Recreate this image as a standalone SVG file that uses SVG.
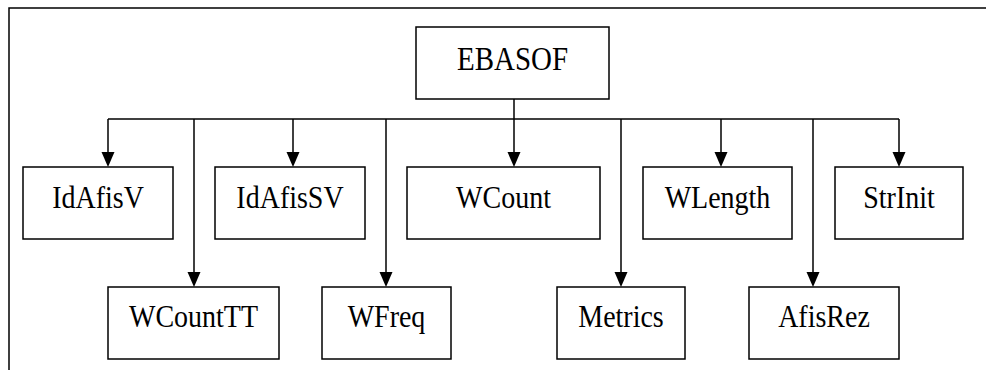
<svg xmlns="http://www.w3.org/2000/svg" width="986" height="370" viewBox="0 0 986 370">
<style>
.box{fill:#fff;stroke:#000;stroke-width:1.5}
.ln{fill:none;stroke:#000;stroke-width:1.5}
.ah{fill:#000}
.t{font-family:"Liberation Serif","Times New Roman",serif;font-size:28px;fill:#000;text-anchor:middle}
.big{font-size:29px}
</style>
<rect width="986" height="370" fill="#fff"/>
<path class="ln" d="M9,370 V8 H986"/>
<g id="connectors">
<path class="ln" d="M514,99 V119"/>
<path class="ln" d="M108,119 H899"/>
<path class="ln" d="M108,119 V152"/>
<polygon class="ah" points="101.5,152 114.5,152 108,167"/>
<path class="ln" d="M293,119 V152"/>
<polygon class="ah" points="286.5,152 299.5,152 293,167"/>
<path class="ln" d="M514,119 V152"/>
<polygon class="ah" points="507.5,152 520.5,152 514,167"/>
<path class="ln" d="M721,119 V152"/>
<polygon class="ah" points="714.5,152 727.5,152 721,167"/>
<path class="ln" d="M899,119 V152"/>
<polygon class="ah" points="892.5,152 905.5,152 899,167"/>
<path class="ln" d="M194,119 V272"/>
<polygon class="ah" points="187.5,272 200.5,272 194,287"/>
<path class="ln" d="M386,119 V272"/>
<polygon class="ah" points="379.5,272 392.5,272 386,287"/>
<path class="ln" d="M621,119 V272"/>
<polygon class="ah" points="614.5,272 627.5,272 621,287"/>
<path class="ln" d="M813,119 V272"/>
<polygon class="ah" points="806.5,272 819.5,272 813,287"/>
</g>
<g id="EBASOF"><rect class="box" x="416" y="27" width="193" height="72"/><text class="t big" transform="translate(512.5,70) scale(1,1.18)">EBASOF</text></g>
<g id="IdAfisV"><rect class="box" x="23" y="167" width="150" height="72"/><text class="t" transform="translate(98,208) scale(1,1.1)">IdAfisV</text></g>
<g id="IdAfisSV"><rect class="box" x="215" y="167" width="150" height="72"/><text class="t" transform="translate(290,208) scale(1,1.1)">IdAfisSV</text></g>
<g id="WCount"><rect class="box" x="407" y="167" width="193" height="72"/><text class="t" transform="translate(503.5,208) scale(1,1.1)">WCount</text></g>
<g id="WLength"><rect class="box" x="643" y="167" width="149" height="72"/><text class="t" transform="translate(717.5,208) scale(1,1.1)">WLength</text></g>
<g id="StrInit"><rect class="box" x="835" y="167" width="128" height="72"/><text class="t" transform="translate(899,208) scale(1,1.1)">StrInit</text></g>
<g id="WCountTT"><rect class="box" x="108" y="287" width="171" height="72"/><text class="t" transform="translate(193.5,327) scale(1,1.1)">WCountTT</text></g>
<g id="WFreq"><rect class="box" x="322" y="287" width="129" height="72"/><text class="t" transform="translate(386.5,327) scale(1,1.1)">WFreq</text></g>
<g id="Metrics"><rect class="box" x="557" y="287" width="128" height="72"/><text class="t" transform="translate(621,327) scale(1,1.1)">Metrics</text></g>
<g id="AfisRez"><rect class="box" x="749" y="287" width="150" height="72"/><text class="t" transform="translate(824,327) scale(1,1.1)">AfisRez</text></g>
</svg>
